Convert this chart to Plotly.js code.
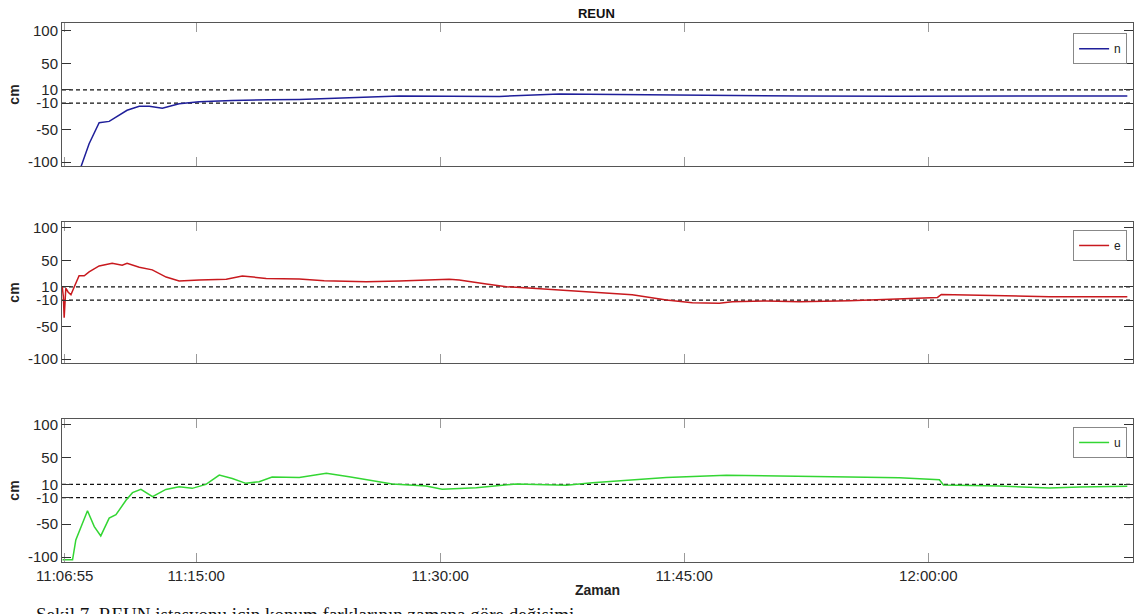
<!DOCTYPE html>
<html>
<head>
<meta charset="utf-8">
<script src="https://cdn.plot.ly/plotly-3.0.1.min.js"></script>
<style>html,body{margin:0;padding:0;background:#fff;}#chart{width:1136px;height:614px;}</style>
</head>
<body>
<div id="chart"></div>
<script>
// ---- data ----
const chartTitle = "REUN";
const seriesNames = ["n", "e", "u"];
const xTickLabels = ["11:06:55", "11:15:00", "11:30:00", "11:45:00", "12:00:00"];
const yTickValues = [-100, -50, -10, 10, 50, 100];
const thresholdLines = [10, -10];

const nTime = ["11:07:48","11:07:56","11:08:25","11:09:02","11:09:39","11:10:09","11:10:45","11:11:30","11:12:07","11:12:55","11:13:57","11:15:11","11:17:13","11:19:29","11:21:20","11:24:24","11:27:29","11:30:33","11:33:38","11:37:19","11:39:47","11:43:54","11:47:46","11:52:04","11:58:13","12:04:22","12:12:14"];
const nValue = [-120,-106,-72,-40,-38,-30,-21,-15,-15,-18,-11,-8,-6,-5,-4.5,-2,0.8,0.5,0,3.8,3.3,1.5,1,0.8,0.5,1,0.8];

const eTime = ["11:06:46","11:06:50","11:06:53","11:06:59","11:07:08","11:07:18","11:07:30","11:07:48","11:08:07","11:08:25","11:09:02","11:09:50","11:10:27","11:10:45","11:11:30","11:12:18","11:13:09","11:13:57","11:15:11","11:16:51","11:17:50","11:19:18","11:21:20","11:22:52","11:25:27","11:27:29","11:30:33","11:31:10","11:32:50","11:34:04","11:35:40","11:38:44","11:41:48","11:43:54","11:45:30","11:47:09","11:47:57","11:50:03","11:52:04","11:55:09","11:58:13","12:00:34","12:00:48","12:01:55","12:04:22","12:07:27","12:12:14"];
const eValue = [10,-5,-37,8,2,-2,10,27,27,33,42,46,43,46,40,36,25,19,20.6,21.7,26.7,23,22,19.6,18,19,21.7,20.6,14.5,10.4,8,2.8,-2,-10,-14,-15,-12.5,-11.5,-12.5,-11,-8,-6,-1.5,-2,-3.5,-5,-5];

const uTime = ["11:06:47","11:07:12","11:07:24","11:07:36","11:07:55","11:08:19","11:08:44","11:09:08","11:09:39","11:10:04","11:10:41","11:11:05","11:11:36","11:12:19","11:13:08","11:13:57","11:14:45","11:15:36","11:16:25","11:17:13","11:18:03","11:18:52","11:19:40","11:21:20","11:23:00","11:24:24","11:27:03","11:29:08","11:30:07","11:32:13","11:34:40","11:37:45","11:39:21","11:41:48","11:43:54","11:47:35","11:52:04","11:55:09","11:58:13","12:00:41","12:00:56","12:04:22","12:07:27","12:09:17","12:12:14"];
const uValue = [-104,-104,-104,-74,-54,-30,-54,-68,-41,-36,-14,-2.5,2.4,-8.6,2.4,6.5,4,10,24,19,11.6,14,21,20.6,26.8,21.7,10.6,7.6,2.6,5,10.6,8.6,12.6,16.7,20.6,24,21.7,21,20,17,9,7.6,4.5,6,7];

const captionText = "Şekil 7. REUN istasyonu için konum farklarının zamana göre değişimi";

// ---- build ----
const day = "2020-01-01 ";
const toDate = arr => arr.map(s => day + s);
const colors = ["#1f1f9a", "#c8191e", "#33d633"];
const times = [nTime, eTime, uTime];
const values = [nValue, eValue, uValue];
const axSuffix = ["", "2", "3"];
const legendIds = ["legend", "legend2", "legend3"];

const traces = values.map((v, i) => ({
  type: "scatter", mode: "lines",
  x: toDate(times[i]), y: v,
  name: seriesNames[i],
  line: {color: colors[i], width: 1.5},
  xaxis: "x" + axSuffix[i], yaxis: "y" + axSuffix[i],
  legend: legendIds[i]
}));

const font = {family: "Liberation Sans, Arial, sans-serif", size: 15, color: "#262626"};
const xRange = [day + "11:06:45", day + "12:12:35"];
const domains = [[0.7347, 1], [0.3692, 0.6308], [0, 0.2653]];
const yRanges = [[-106, 112], [-106, 109], [-107.5, 109]];

const layout = {
  width: 1136, height: 614,
  margin: {l: 62, r: 3, t: 23, b: 52},
  paper_bgcolor: "#fff", plot_bgcolor: "#fff",
  font: font,
  showlegend: true,
  title: {text: "<b>" + chartTitle + "</b>", x: 0.525, xanchor: "center", y: 0.985, yanchor: "top",
          font: {family: "Liberation Sans, Arial, sans-serif", size: 13, color: "#111"}},
  shapes: [],
  annotations: [{
    text: captionText, xref: "paper", yref: "paper", x: -0.0266, xanchor: "left",
    y: -0.097, yanchor: "middle", showarrow: false,
    font: {family: "Liberation Serif, Times New Roman, serif", size: 19, color: "#111"}
  }]
};

const legendTops = [0.981, 0.616, 0.2505];
for (let i = 0; i < 3; i++) {
  const s = axSuffix[i];
  layout["xaxis" + s] = {
    type: "date", range: xRange, domain: [0, 1],
    anchor: "y" + s, matches: i ? "x" : undefined,
    tickvals: toDate(xTickLabels), ticktext: xTickLabels,
    showticklabels: i === 2, ticks: "inside", ticklen: 9, tickcolor: "#9a9a9a", tickwidth: 1,
    showline: true, linecolor: "#555", linewidth: 1, mirror: "ticks",
    showgrid: false, zeroline: false, fixedrange: true,
    tickfont: {size: 15, color: "#262626"},
    title: i === 2 ? {text: "<b>Zaman</b>", standoff: 2, font: {size: 14, color: "#222"}} : {text: ""}
  };
  layout["yaxis" + s] = {
    domain: domains[i], range: yRanges[i], anchor: "x" + s,
    tickvals: yTickValues, ticktext: yTickValues.map(String),
    ticks: "inside", ticklen: 9, tickcolor: "#333", tickwidth: 1,
    showline: true, linecolor: "#555", linewidth: 1, mirror: "ticks",
    showgrid: false, zeroline: false, fixedrange: true,
    tickfont: {size: 15, color: "#262626"},
    title: {text: "<b>cm</b>", standoff: 5, font: {size: 14, color: "#222"}}
  };
  thresholdLines.forEach(t => {
    layout.shapes.push({
      type: "line", xref: "x" + s + " domain", yref: "y" + s,
      x0: 0, x1: 1, y0: t, y1: t,
      line: {color: "#111", width: 1.2, dash: "4px,3px"}, layer: "below"
    });
  });
  layout[legendIds[i]] = {
    x: 0.9945, xanchor: "right", y: legendTops[i], yanchor: "top",
    bgcolor: "#fff", bordercolor: "#888", borderwidth: 1,
    font: {size: 12, color: "#222"}, itemwidth: 30,
    tracegroupgap: 0
  };
}

Plotly.newPlot("chart", traces, layout, {displayModeBar: false, staticPlot: true});
</script>
</body>
</html>
